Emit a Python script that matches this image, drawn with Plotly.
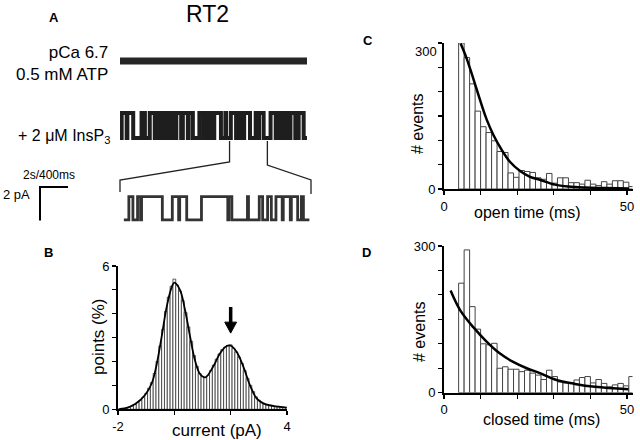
import plotly.graph_objects as go

W, H = 640, 440
FONT = "Liberation Sans, Arial, Helvetica, sans-serif"

# ---------------- Panel A : single-channel records ----------------
unit_current = 2.0          # pA, open level
trace1_t = [0.0, 13.45]     # s  (pCa 6.7, 0.5 mM ATP: channel closed)
trace1_open = [0, 0]

trace2_t = [0.00, 0.12, 0.48, 0.53, 0.95, 1.55, 1.79, 2.14, 2.50, 2.78,
            2.84, 3.09, 3.33, 3.57, 3.81, 4.05, 4.40, 4.52, 4.88, 4.93,
            5.24, 5.71, 6.00, 6.05, 6.30, 6.35, 6.55, 6.78, 7.26, 7.58,
            7.63, 7.97, 8.35, 8.50, 8.71, 8.93, 9.35, 9.76, 9.85, 10.00,
            10.33, 10.83, 11.20, 11.25, 11.52, 11.57, 11.80, 11.85, 12.02, 12.26,
            12.61, 12.85, 13.21]
trace2_open = [i % 2 for i in range(len(trace2_t))]
trace2_end = 13.45

zoom_start, zoom_end = 7.88, 10.60   # s, window shown expanded

exp_t = [0, 71, 129, 195, 238, 252, 548, 690, 780, 795, 895, 1105, 1480, 1495,
         1538, 1760, 1775, 1928, 1976, 2047, 2100, 2166, 2255, 2270, 2370, 2385,
         2475, 2528, 2557]          # ms
exp_open = [i % 2 for i in range(len(exp_t))]
exp_end = 2642

# ---------------- Panel B : all-points histogram ----------------
current_bins = [round(-2.0 + 0.1 * i, 1) for i in range(61)]
points_pct = [0.01, 0.02, 0.04, 0.06, 0.09, 0.13, 0.20, 0.28, 0.38, 0.50,
              0.66, 0.88, 1.12, 1.50, 2.00, 2.65, 3.35, 4.10, 4.70, 5.15,
              5.45, 5.20, 4.95, 4.55, 4.05, 3.45, 2.85, 2.25, 1.80, 1.50,
              1.38, 1.33, 1.42, 1.62, 1.85, 2.10, 2.32, 2.50, 2.60, 2.66,
              2.70, 2.55, 2.40, 2.18, 1.92, 1.62, 1.30, 1.00, 0.74, 0.52,
              0.38, 0.28, 0.22, 0.18, 0.15, 0.13, 0.11, 0.10, 0.09, 0.08, 0.07]
fitB_x = [-1.95, -1.75, -1.39, -1.04, -0.80, -0.62, -0.45, -0.27, -0.09, 0.0,
          0.2, 0.38, 0.56, 0.73, 0.91, 1.1, 1.38, 1.62, 1.86, 2.0,
          2.21, 2.45, 2.68, 2.92, 3.16, 3.51, 3.99]
fitB_y = [0.02, 0.04, 0.22, 0.60, 1.09, 1.92, 3.04, 4.30, 5.13, 5.30,
          5.00, 4.16, 3.04, 2.06, 1.48, 1.34, 1.79, 2.34, 2.65, 2.66,
          2.41, 1.79, 1.02, 0.46, 0.25, 0.14, 0.07]
arrow_x, arrow_tip, arrow_tail = 2.0, 3.19, 4.28   # pA, %  (marks the open level)

# ---------------- Panels C / D : dwell-time histograms ----------------
bin_start, bin_width = 4.0, 1.5   # ms
open_counts = [300, 270, 216, 160, 128, 116, 99, 77, 75, 33, 24, 38, 36, 34, 23, 20,
               32, 12, 23, 23, 13, 13, 10, 18, 10, 7, 15, 10, 17, 17, 14, 5]
closed_counts = [224, 292, 176, 130, 100, 98, 101, 50, 53, 48, 48, 43, 46, 40, 36, 27,
                 46, 33, 22, 20, 20, 26, 31, 33, 20, 27, 19, 12, 16, 19, 14, 33]
fitC_t = [4.55, 6.2, 8.0, 9.84, 11.7, 13.5, 15.8, 18.0, 20.8, 23.5, 26.2, 30.3, 34, 38.6, 44, 50.5]
fitC_n = [299, 268, 227, 183, 142, 111, 80, 56, 37, 25, 19, 9, 5, 3, 2, 1]
fitD_t = [1.8, 4.4, 8.0, 11.7, 15.3, 18.9, 22.6, 26.2, 30.3, 35.8, 41.3, 50.4]
fitD_n = [209, 169, 134, 104, 80, 63, 50, 40, 27, 18, 12, 7]


def px(p):
    return p / W


def py(p):
    return 1 - p / H


def steps(t, s, end):
    xs = list(t) + [end]
    ys = [v * unit_current for v in s] + [s[-1] * unit_current]
    return xs, ys


fig = go.Figure()

# traces
x1, y1 = steps(trace1_t, trace1_open, trace1_t[-1])
fig.add_trace(go.Scatter(x=x1, y=y1, mode="lines", line=dict(color="#262626", width=7),
                         xaxis="x", yaxis="y", hoverinfo="skip"))
x2, y2 = steps(trace2_t, trace2_open, trace2_end)
fig.add_trace(go.Scatter(x=x2, y=y2, mode="lines", line=dict(color="#1e1e1e", width=4, shape="hv"),
                         xaxis="x2", yaxis="y2", hoverinfo="skip"))
x3, y3 = steps(exp_t, exp_open, exp_end)
fig.add_trace(go.Scatter(x=x3, y=y3, mode="lines", line=dict(color="#333333", width=2.8, shape="hv"),
                         xaxis="x3", yaxis="y3", hoverinfo="skip"))

# panel B
fig.add_trace(go.Bar(x=current_bins, y=points_pct, width=0.1,
                     marker=dict(color="white", line=dict(color="#333333", width=0.8)),
                     xaxis="x4", yaxis="y4"))
fig.add_trace(go.Scatter(x=fitB_x, y=fitB_y, mode="lines", line=dict(color="black", width=1.8, shape="spline"),
                         xaxis="x4", yaxis="y4"))

# panels C, D
centers = [bin_start + bin_width * (i + 0.5) for i in range(len(open_counts))]
fig.add_trace(go.Bar(x=centers, y=open_counts, width=bin_width,
                     marker=dict(color="white", line=dict(color="#444444", width=1)),
                     xaxis="x5", yaxis="y5"))
fig.add_trace(go.Scatter(x=fitC_t, y=fitC_n, mode="lines", line=dict(color="black", width=2.5, shape="spline"),
                         xaxis="x5", yaxis="y5"))
fig.add_trace(go.Bar(x=centers, y=closed_counts, width=bin_width,
                     marker=dict(color="white", line=dict(color="#444444", width=1)),
                     xaxis="x6", yaxis="y6"))
fig.add_trace(go.Scatter(x=fitD_t, y=fitD_n, mode="lines", line=dict(color="black", width=2.5, shape="spline"),
                         xaxis="x6", yaxis="y6"))

hidden = dict(visible=False, showgrid=False, zeroline=False, automargin=False)
tr_x_dom = [px(120), px(307)]
tr_x_rng = [0, 13.45]
ex_x_dom = [px(120), px(311)]
ex_x_rng = [-55, 2665]


def axis(**kw):
    d = dict(showline=True, linecolor="black", linewidth=2, ticks="outside", ticklen=4,
             tickwidth=1.2, tickcolor="black", showgrid=False, zeroline=False, automargin=False,
             tickfont=dict(family=FONT, size=13, color="black"), fixedrange=True)
    d.update(kw)
    return d


def minor(vals):
    return dict(tickmode="array", tickvals=vals, ticks="outside", ticklen=4,
                tickwidth=1.2, tickcolor="black", showgrid=False)


fig.update_layout(
    template="none",
    width=W, height=H, margin=dict(l=0, r=0, t=0, b=0, pad=0), autosize=False,
    paper_bgcolor="white", plot_bgcolor="rgba(0,0,0,0)", showlegend=False,
    bargap=0, font=dict(family=FONT, color="black"),
    xaxis=dict(domain=tr_x_dom, range=tr_x_rng, anchor="y", **hidden),
    yaxis=dict(domain=[py(75), py(45)], range=[-1.12, 1.28], anchor="x", **hidden),
    xaxis2=dict(domain=tr_x_dom, range=tr_x_rng, anchor="y2", **hidden),
    yaxis2=dict(domain=[py(150), py(100)], range=[-0.96, 3.04], anchor="x2", **hidden),
    xaxis3=dict(domain=ex_x_dom, range=ex_x_rng, anchor="y3", **hidden),
    yaxis3=dict(domain=[py(230), py(185)], range=[-0.86, 3.0], anchor="x3", **hidden),
    xaxis4=axis(domain=[px(118), px(287)], range=[-2, 4], anchor="y4",
                tickmode="array", tickvals=[-2, 4], ticktext=["-2", "4"], minor=minor([0, 2])),
    yaxis4=axis(domain=[py(409.3), py(266)], range=[0, 6], anchor="x4",
                tickmode="array", tickvals=[0, 6], ticktext=["0", "6"], minor=minor([1, 2, 3, 4, 5])),
    xaxis5=axis(domain=[px(444), px(632.5)], range=[0, 51.5], anchor="y5",
                tickmode="array", tickvals=[0, 50], ticktext=["0", "50"], minor=minor([10, 20, 30, 40])),
    yaxis5=axis(domain=[py(189), py(43)], range=[0, 300], anchor="x5",
                tickmode="array", tickvals=[0], ticktext=["0"],
                minor=minor([50, 100, 150, 200, 250, 300])),
    xaxis6=axis(domain=[px(444), px(632.5)], range=[0, 51.5], anchor="y6",
                tickmode="array", tickvals=[0, 50], ticktext=["0", "50"], minor=minor([10, 20, 30, 40])),
    yaxis6=axis(domain=[py(392.7), py(246)], range=[0, 300], anchor="x6",
                tickmode="array", tickvals=[0, 300], ticktext=["0", "300"],
                minor=minor([50, 100, 150, 200, 250])),
)


def data_to_paper(t, dom, rng):
    return dom[0] + (t - rng[0]) / (rng[1] - rng[0]) * (dom[1] - dom[0])


xa = data_to_paper(zoom_start, tr_x_dom, tr_x_rng)
xb = data_to_paper(zoom_end, tr_x_dom, tr_x_rng)
head_half = 0.21     # pA, half-width of arrow head
head_len = 0.46      # %, length of arrow head
shapes = [
    dict(type="path", xref="paper", yref="paper",
         path=f"M {xa},{py(141)} L {xa},{py(162)} L {ex_x_dom[0]},{py(180)} L {ex_x_dom[0]},{py(192)}",
         line=dict(color="#222222", width=1.3)),
    dict(type="path", xref="paper", yref="paper",
         path=f"M {xb},{py(141)} L {xb},{py(165)} L {ex_x_dom[1]},{py(180)} L {ex_x_dom[1]},{py(194)}",
         line=dict(color="#222222", width=1.3)),
    # scale bar 2 s / 400 ms, 2 pA
    dict(type="path", xref="paper", yref="paper",
         path=f"M {px(68)},{py(187)} L {px(40)},{py(187)} L {px(40)},{py(220.5)}",
         line=dict(color="black", width=2)),
    # arrow in panel B
    dict(type="line", xref="x4", yref="y4", x0=arrow_x, x1=arrow_x,
         y0=arrow_tip + head_len * 0.8, y1=arrow_tail, line=dict(color="black", width=3.5)),
    dict(type="path", xref="x4", yref="y4",
         path=(f"M {arrow_x - head_half},{arrow_tip + head_len} L {arrow_x + head_half},{arrow_tip + head_len} "
               f"L {arrow_x},{arrow_tip} Z"),
         fillcolor="black", line=dict(color="black", width=1)),
]
fig.update_layout(shapes=shapes)


def txt(text, x, y, size, xanchor="center", bold=False, angle=0, align="center", yanchor="middle"):
    return dict(text=f"<b>{text}</b>" if bold else text, x=px(x), y=py(y), xref="paper", yref="paper",
                xanchor=xanchor, yanchor=yanchor, showarrow=False, textangle=angle, align=align,
                borderpad=0, font=dict(family=FONT, size=size, color="black"))


annotations = [
    txt("A", 54, 18, 13, bold=True),
    txt("RT2", 207, 0, 23, yanchor="top"),
    txt("pCa 6.7<br>0.5 mM ATP", 109, 63, 17, xanchor="right", align="right"),
    txt("+ 2 μM InsP<sub>3</sub>", 111, 136, 16, xanchor="right"),
    txt("2s/400ms", 49, 175, 12),
    txt("2 pA", 16, 195, 13),
    txt("B", 48, 252, 13, bold=True),
    txt("current (pA)", 217, 430, 17),
    txt("points (%)", 98, 337, 17, angle=-90),
    txt("C", 368, 40, 13, bold=True),
    txt("300", 438, 52, 13, xanchor="right"),
    txt("open time (ms)", 527, 212, 16),
    txt("# events", 418, 124, 16, angle=-90),
    txt("D", 366, 252, 13, bold=True),
    txt("closed time (ms)", 541, 419, 16),
    txt("# events", 419, 332, 16, angle=-90),
]
fig.update_layout(annotations=annotations)

fig.write_html("out.html", config={"displayModeBar": False, "staticPlot": True},
               post_script="document.documentElement.style.margin='0';"
                           "document.body.style.margin='0';document.body.style.padding='0';")
